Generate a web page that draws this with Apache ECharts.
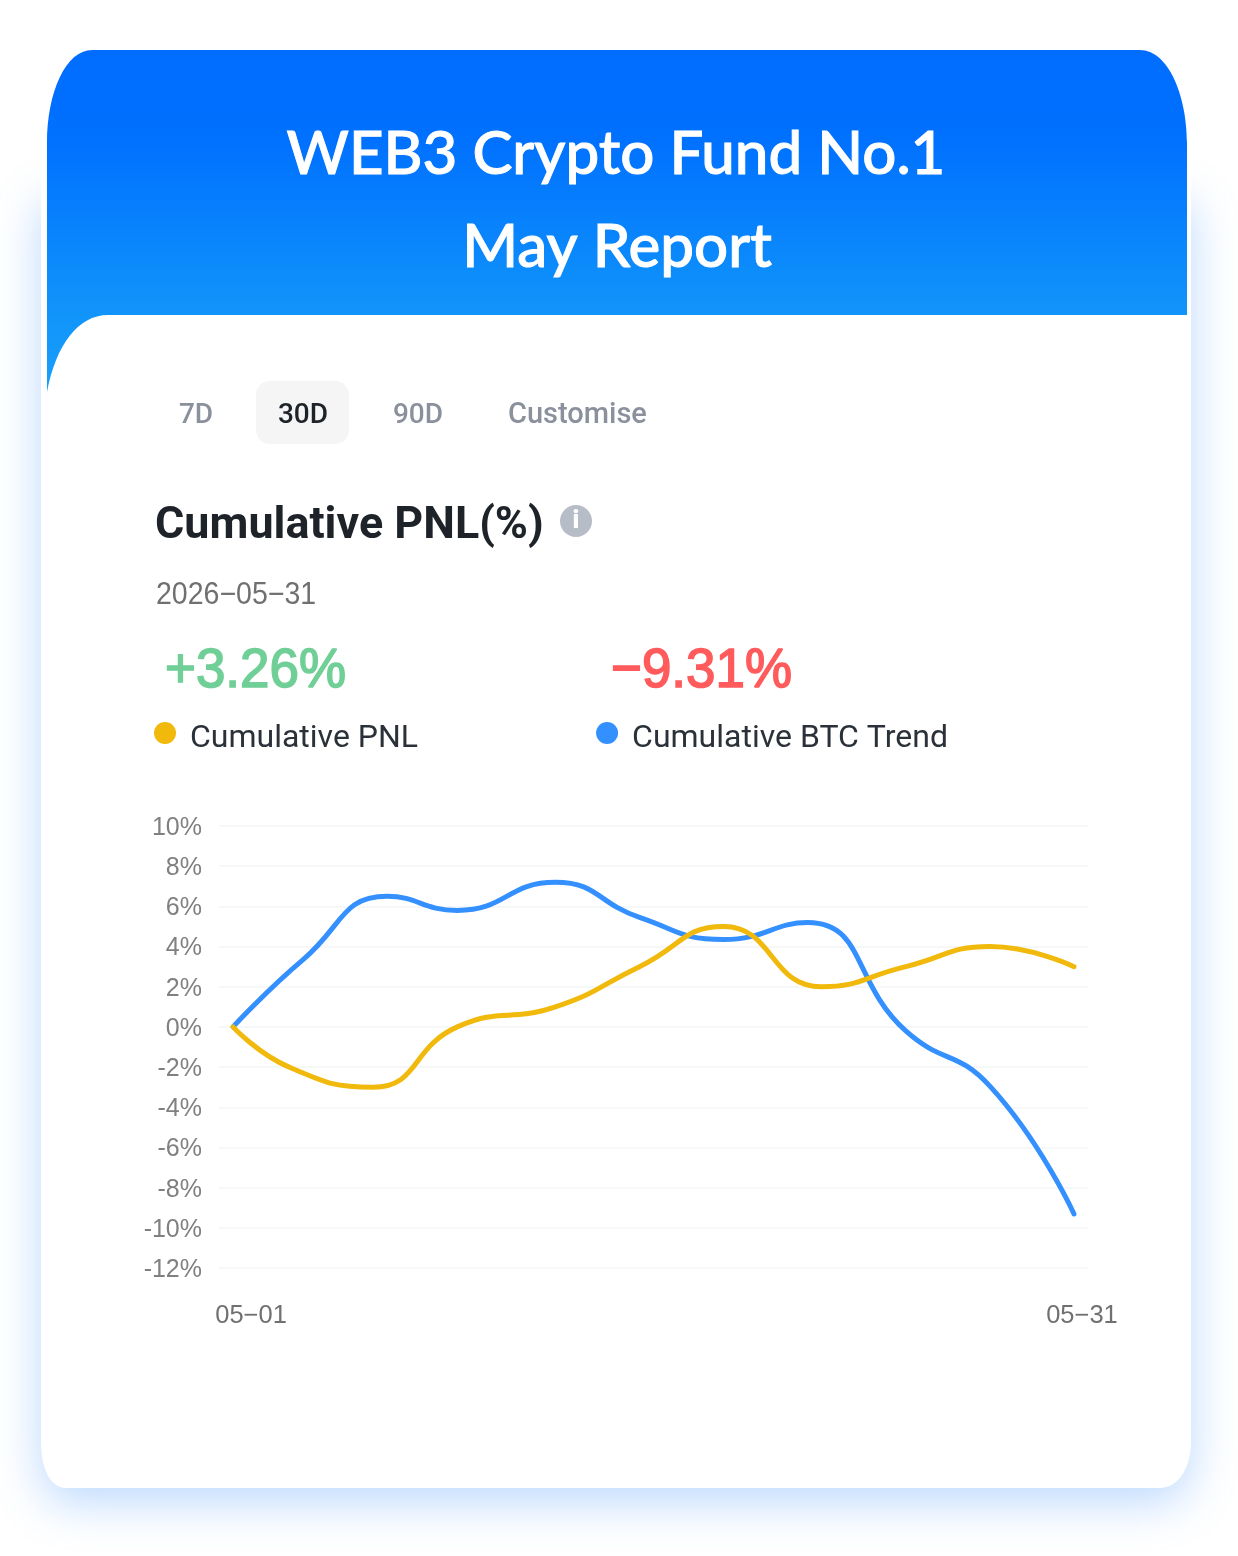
<!DOCTYPE html>
<html><head><meta charset="utf-8">
<style>html,body{margin:0;padding:0;background:#fff}#c{width:1238px;height:1556px}</style>
<script src="https://cdn.jsdelivr.net/npm/echarts@6/dist/echarts.min.js"></script>
</head><body><div id="c"></div>
<script>
const days = ['05\u221201','05-02','05-03','05-04','05-05','05-06','05-07','05-08','05-09','05-10','05-11','05-12','05-13','05-14','05-15','05-16','05-17','05-18','05-19','05-20','05-21','05-22','05-23','05-24','05-25','05-26','05-27','05-28','05-29','05-30','05\u221231'];
// half-day positions on the axis: 0 is the blank lead-in, 1 = 05-01, 61 = 05-31
const pnlSlots = [1,5,11,17,24,30,36,43,49,55,61];
const pnlValues = [0,-2,-3,0,1,3,5,2,3,4,3];
const btcSlots = [1,6,12,17,24,30,36,42,49,55,61];
const btcValues = [0,3.35,6.5,5.8,7.2,5.45,4.35,5.2,-0.2,-2.95,-9.31];
const tabs = ['7D','30D','90D','Customise'];
const seriesNames = ['Cumulative PNL','Cumulative BTC Trend'];

echarts.graphic.registerShape('headerBand', echarts.graphic.extendShape({
  shape:{},
  buildPath(ctx){
    ctx.moveTo(47,392);
    ctx.lineTo(47,143);
    ctx.bezierCurveTo(47,92,66,50,92,50);
    ctx.lineTo(1140,50);
    ctx.bezierCurveTo(1168,50,1187,95,1187,143);
    ctx.lineTo(1187,315);
    ctx.lineTo(108,315);
    ctx.bezierCurveTo(78,315,56,345,47,392);
    ctx.closePath();
  }
}));
echarts.graphic.registerShape('cardBody', echarts.graphic.extendShape({
  shape:{},
  buildPath(ctx){
    ctx.moveTo(41,190);
    ctx.lineTo(41,1442);
    ctx.bezierCurveTo(41,1468,50,1488,66,1488);
    ctx.lineTo(1160,1488);
    ctx.bezierCurveTo(1178,1488,1191,1468,1191,1442);
    ctx.lineTo(1191,190);
    ctx.closePath();
  }
}));
const chart = echarts.init(document.getElementById('c'), null, {renderer:'canvas'});
const body = '"Roboto"', num = '"Liberation Sans"';
function txt(x,y,text,size,fill,family,weight,align,extra){
  const e = extra||{};
  return {type:'text',x:x,y:y,z:5,scaleX:e.scaleX||1,style:{text:text,fontSize:size,fontFamily:family||body,fontWeight:weight||400,fill:fill,stroke:e.stroke?fill:null,lineWidth:e.stroke||0,textAlign:align||'left',textVerticalAlign:'middle'}};
}
// axis categories: lead-in, then each day and its following half-day, then lead-out
const xData = [''];
days.forEach((d,i)=>{
  if(i===0) xData.push({value:d,textStyle:{padding:[0,0,0,36]}});
  else if(i===days.length-1) xData.push({value:d,textStyle:{padding:[0,0,0,16]}});
  else xData.push(d);
  xData.push(d+' PM');
});
const pairs = (s,v)=>s.map((k,i)=>[k,v[i]]);
chart.setOption({
  animation:false,
  backgroundColor:'#ffffff',
  graphic:[{type:'group',elements:[
    {type:'cardBody',z:-10,shape:{},style:{fill:'#fff',shadowBlur:46,shadowColor:'rgba(70,150,250,0.36)',shadowOffsetY:14}},
    {type:'rect',z:-9,shape:{x:41,y:60,width:1150,height:300,r:0},style:{fill:'#fff'}},
    {type:'headerBand',z:-8,shape:{},
      style:{fill:new echarts.graphic.LinearGradient(0,0,0,1,[{offset:0,color:'#006dfe'},{offset:0.25,color:'#0070ff'},{offset:0.78,color:'#1195fa'},{offset:1,color:'#189ffb'}])}},
    txt(616,155,'WEB3 Crypto Fund No.1',60,'#ffffff','"Lato"',500,'center',{stroke:1}),
    txt(617,248,'May Report',60,'#ffffff','"Lato"',500,'center',{stroke:1}),
    {type:'rect',z:1,shape:{x:256,y:381,width:93,height:63,r:14},style:{fill:'#f5f5f5'}},
    txt(196,416,tabs[0],28,'#8b919c',body,500,'center'),
    txt(303,416,tabs[1],28,'#1e2329',body,500,'center'),
    txt(418,416,tabs[2],28,'#8b919c',body,500,'center'),
    txt(508,416,tabs[3],29,'#8b919c',body,500,'left'),
    txt(155,527,'Cumulative PNL(%)',44,'#1e2329',body,700,'left',{scaleX:1.02}),
    {type:'circle',z:4,shape:{cx:576,cy:521,r:16},style:{fill:'#b7bdc6'}},
    txt(576,522,'i',25,'#ffffff',body,900,'center'),
    txt(156,595,'2026\u221205\u221231',31,'#707070',num,400,'left',{scaleX:0.92}),
    txt(165,672,'+3.26%',56,'#70cf97',num,400,'left',{scaleX:0.945,stroke:1.6}),
    txt(611,672,'\u22129.31%',56,'#ff5b5c',num,400,'left',{scaleX:0.945,stroke:1.6})
  ]}],
  legend:{left:154,top:722,padding:0,icon:'circle',itemWidth:22,itemHeight:22,itemGap:178,selectedMode:false,
    data:seriesNames,formatter:n=>'{a|'+n+'}',
    textStyle:{rich:{a:{fontFamily:body,fontSize:32,color:'#2b3139',padding:[12,0,0,9]}}}},
  grid:{left:219,width:869,top:826,height:442,containLabel:false},
  xAxis:{type:'category',data:xData,boundaryGap:false,axisLine:{show:false},axisTick:{show:false},
    axisLabel:{interval:(i)=>i===1||i===61,fontFamily:num,fontSize:25.5,color:'#707070',margin:35},splitLine:{show:false}},
  yAxis:{type:'value',min:-12,max:10,interval:2,axisLine:{show:false},axisTick:{show:false},
    axisLabel:{formatter:v=>'{a|'+v+'%}',margin:17,rich:{a:{fontFamily:num,fontSize:25,color:'#808080',padding:[4,0,0,0]}}},
    splitLine:{lineStyle:{color:'#f3f4f5',width:1.5}}},
  series:[
    {name:seriesNames[1],type:'line',data:pairs(btcSlots,btcValues),smooth:0.5,showSymbol:false,symbol:'none',z:2,lineStyle:{color:'#3490fe',width:5,cap:'round'},itemStyle:{color:'#3490fe'}},
    {name:seriesNames[0],type:'line',data:pairs(pnlSlots,pnlValues),smooth:0.5,showSymbol:false,symbol:'none',z:3,lineStyle:{color:'#f0b90b',width:5,cap:'round'},itemStyle:{color:'#f0b90b'}}
  ]
});
</script></body></html>
